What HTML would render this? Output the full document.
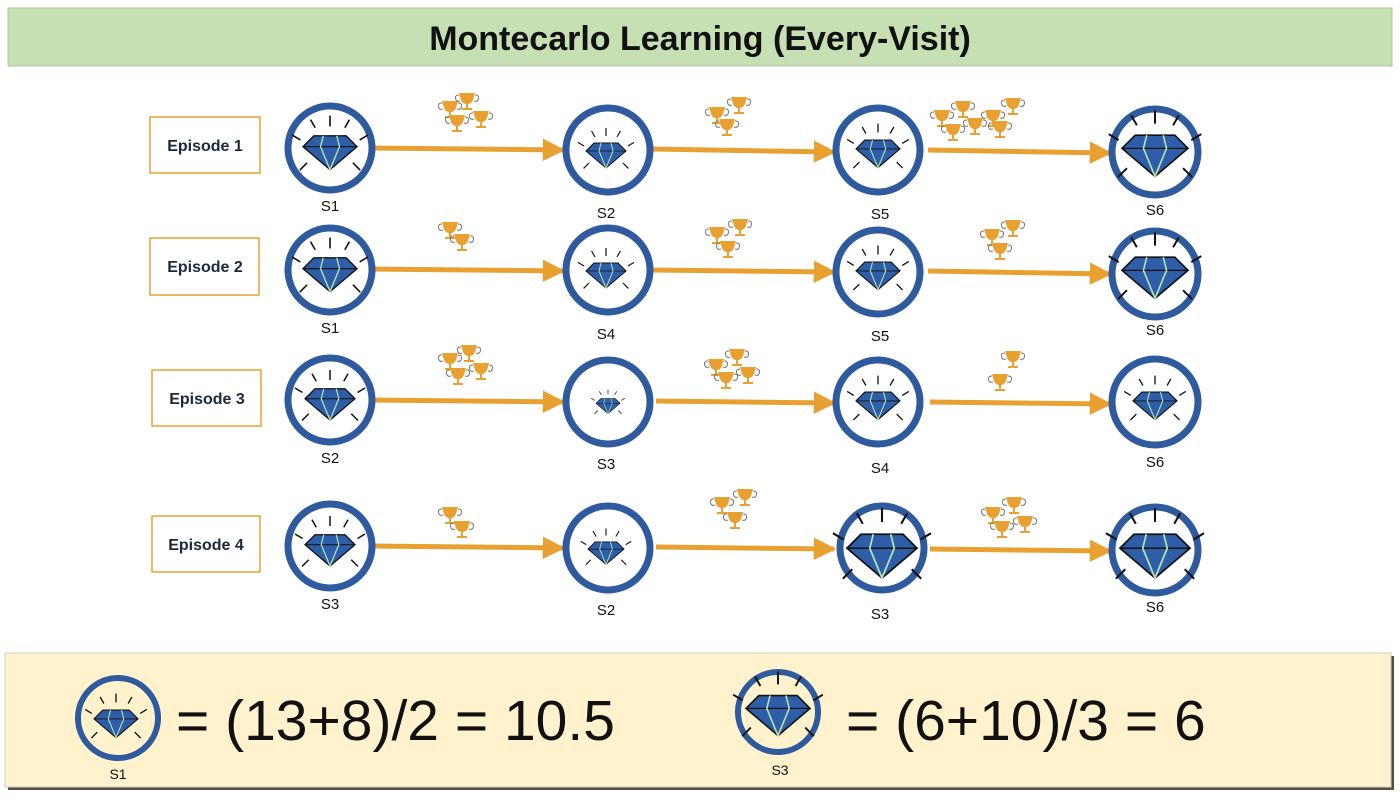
<!DOCTYPE html>
<html><head><meta charset="utf-8"><style>
html,body{margin:0;padding:0;background:#fff;}
svg{display:block;font-family:"Liberation Sans",sans-serif;}
</style></head><body>
<svg width="1400" height="805" viewBox="0 0 1400 805" xmlns="http://www.w3.org/2000/svg">
<defs>
<g id="dia">
  <polygon points="-0.6,-0.45 0.6,-0.45 1,-0.05 0,0.8 -1,-0.05" fill="#2f5ea8" stroke="#111" stroke-width="0.05"/>
  <polyline points="-1,-0.05 1,-0.05" stroke="#111" stroke-width="0.04" fill="none"/>
  <polyline points="-0.25,-0.45 -0.35,-0.05 0,0.8 0.35,-0.05 0.25,-0.45" stroke="#b8e0b0" stroke-width="0.05" fill="none"/>
  <g stroke="#111" stroke-width="0.06">
    <line x1="0" y1="-0.8" x2="0" y2="-1.2"/>
    <line x1="-0.55" y1="-0.75" x2="-0.72" y2="-1.05"/>
    <line x1="0.55" y1="-0.75" x2="0.72" y2="-1.05"/>
    <line x1="-1.1" y1="-0.3" x2="-1.4" y2="-0.48"/>
    <line x1="1.1" y1="-0.3" x2="1.4" y2="-0.48"/>
    <line x1="-0.85" y1="0.55" x2="-1.12" y2="0.82"/>
    <line x1="0.85" y1="0.55" x2="1.12" y2="0.82"/>
  </g>
</g>
<g id="cup">
  <path d="M-8,-9 h16 l-2,7 q-2,4 -5,4 v4 h4 v2 h-10 v-2 h4 v-4 q-3,0 -5,-4 z" fill="#e8a030"/>
  <path d="M-8,-7 q-5,0 -3,5 q1,2 4,1 M8,-7 q5,0 3,5 q-1,2 -4,1" fill="none" stroke="#777" stroke-width="1"/>
</g>
<marker id="ah" viewBox="0 0 10 10" refX="9" refY="5" markerWidth="4.5" markerHeight="4.5" orient="auto"><path d="M0,0 L10,5 L0,10 z" fill="#e8a030"/></marker>
</defs>

<rect x="8" y="8" width="1384" height="58" fill="#c6e0b4" stroke="#a9c79a"/>
<text x="700" y="50" text-anchor="middle" font-size="34" font-weight="bold" fill="#111">Montecarlo Learning (Every-Visit)</text>

<g font-size="16" font-weight="bold" fill="#1a2a3a" text-anchor="middle">
<rect x="150" y="117" width="110" height="56" fill="#fff" stroke="#e8a030" stroke-width="1.5"/><text x="205" y="151">Episode 1</text>
<rect x="150" y="238" width="109" height="57" fill="#fff" stroke="#e8a030" stroke-width="1.5"/><text x="205" y="272">Episode 2</text>
<rect x="152" y="370" width="109" height="56" fill="#fff" stroke="#e8a030" stroke-width="1.5"/><text x="207" y="404">Episode 3</text>
<rect x="152" y="516" width="108" height="56" fill="#fff" stroke="#e8a030" stroke-width="1.5"/><text x="206" y="550">Episode 4</text>
</g>

<g stroke="#e8a030" stroke-width="5" marker-end="url(#ah)">
<line x1="372" y1="148" x2="563" y2="150"/><line x1="652" y1="149" x2="834" y2="152"/><line x1="928" y1="150" x2="1110" y2="153"/>
<line x1="372" y1="269" x2="563" y2="271"/><line x1="652" y1="270" x2="834" y2="272"/><line x1="928" y1="271" x2="1110" y2="274"/>
<line x1="372" y1="400" x2="563" y2="402"/><line x1="656" y1="401" x2="834" y2="403"/><line x1="930" y1="402" x2="1110" y2="404"/>
<line x1="372" y1="546" x2="563" y2="548"/><line x1="656" y1="547" x2="834" y2="549"/><line x1="930" y1="549" x2="1110" y2="551"/>
</g>

<g fill="#fff" stroke="#2f5a9e" stroke-width="7">
<circle cx="330" cy="148" r="42"/><circle cx="608" cy="150" r="42"/><circle cx="878" cy="150" r="42"/><circle cx="1155" cy="152" r="43"/>
<circle cx="330" cy="270" r="42"/><circle cx="608" cy="270" r="42"/><circle cx="878" cy="272" r="42"/><circle cx="1155" cy="274" r="43"/>
<circle cx="330" cy="400" r="42"/><circle cx="608" cy="402" r="42"/><circle cx="878" cy="402" r="42"/><circle cx="1155" cy="402" r="43"/>
<circle cx="330" cy="546" r="42"/><circle cx="608" cy="548" r="42"/><circle cx="882" cy="548" r="42"/><circle cx="1155" cy="550" r="43"/>
</g>

<use href="#dia" transform="translate(330,148) scale(27)"/><use href="#dia" transform="translate(606,152) scale(20)"/><use href="#dia" transform="translate(878,150) scale(22)"/><use href="#dia" transform="translate(1155,150) scale(33)"/>
<use href="#dia" transform="translate(330,270) scale(27)"/><use href="#dia" transform="translate(606,272) scale(20)"/><use href="#dia" transform="translate(878,272) scale(22)"/><use href="#dia" transform="translate(1155,272) scale(33)"/>
<use href="#dia" transform="translate(330,400) scale(25)"/><use href="#dia" transform="translate(608,404) scale(12)"/><use href="#dia" transform="translate(878,402) scale(22)"/><use href="#dia" transform="translate(1155,402) scale(22)"/>
<use href="#dia" transform="translate(330,546) scale(25)"/><use href="#dia" transform="translate(606,550) scale(18)"/><use href="#dia" transform="translate(882,550) scale(35)"/><use href="#dia" transform="translate(1155,550) scale(35)"/>

<use href="#cup" x="450" y="110"/><use href="#cup" x="467" y="102"/><use href="#cup" x="457" y="124"/><use href="#cup" x="481" y="120"/>
<use href="#cup" x="717" y="116"/><use href="#cup" x="739" y="106"/><use href="#cup" x="727" y="128"/>
<use href="#cup" x="942" y="119"/><use href="#cup" x="963" y="110"/><use href="#cup" x="953" y="133"/><use href="#cup" x="975" y="127"/><use href="#cup" x="993" y="119"/><use href="#cup" x="1013" y="107"/><use href="#cup" x="1000" y="130"/>
<use href="#cup" x="450" y="231"/><use href="#cup" x="462" y="243"/>
<use href="#cup" x="717" y="236"/><use href="#cup" x="740" y="228"/><use href="#cup" x="728" y="250"/>
<use href="#cup" x="992" y="238"/><use href="#cup" x="1013" y="229"/><use href="#cup" x="1000" y="252"/>
<use href="#cup" x="450" y="362"/><use href="#cup" x="469" y="354"/><use href="#cup" x="458" y="377"/><use href="#cup" x="481" y="372"/>
<use href="#cup" x="716" y="368"/><use href="#cup" x="737" y="358"/><use href="#cup" x="726" y="381"/><use href="#cup" x="748" y="376"/>
<use href="#cup" x="1013" y="360"/><use href="#cup" x="1000" y="383"/>
<use href="#cup" x="450" y="516"/><use href="#cup" x="462" y="530"/>
<use href="#cup" x="722" y="506"/><use href="#cup" x="745" y="498"/><use href="#cup" x="735" y="521"/>
<use href="#cup" x="993" y="516"/><use href="#cup" x="1014" y="506"/><use href="#cup" x="1002" y="530"/><use href="#cup" x="1025" y="525"/>

<g font-size="15" fill="#111" text-anchor="middle">
<text x="330" y="211">S1</text><text x="606" y="218">S2</text><text x="880" y="219">S5</text><text x="1155" y="215">S6</text>
<text x="330" y="333">S1</text><text x="606" y="339">S4</text><text x="880" y="341">S5</text><text x="1155" y="335">S6</text>
<text x="330" y="463">S2</text><text x="606" y="469">S3</text><text x="880" y="473">S4</text><text x="1155" y="467">S6</text>
<text x="330" y="609">S3</text><text x="606" y="615">S2</text><text x="880" y="619">S3</text><text x="1155" y="612">S6</text>
</g>

<rect x="8" y="656" width="1386" height="134" fill="#5a5040"/>
<rect x="5" y="653" width="1386" height="134" fill="#fff2cc" stroke="#ccc" stroke-width="1"/>
<circle cx="118" cy="718" r="40" fill="#fff2cc" stroke="#2f5a9e" stroke-width="6"/>
<use href="#dia" transform="translate(116,720) scale(22)"/>
<circle cx="778" cy="712" r="40" fill="#fff2cc" stroke="#2f5a9e" stroke-width="6"/>
<use href="#dia" transform="translate(778,710) scale(32)"/>
<text x="118" y="779" font-size="14" text-anchor="middle" fill="#111">S1</text>
<text x="780" y="775" font-size="14" text-anchor="middle" fill="#111">S3</text>
<text x="176" y="740" font-size="57" fill="#111">= (13+8)/2 = 10.5</text>
<text x="846" y="740" font-size="57" fill="#111">= (6+10)/3 = 6</text>
</svg>
</body></html>
